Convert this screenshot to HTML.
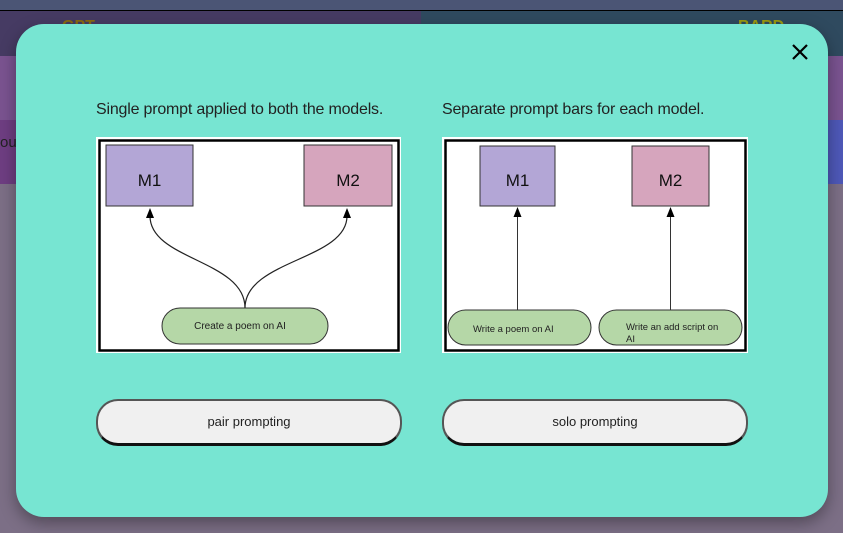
<!DOCTYPE html>
<html><head><meta charset="utf-8"><style>
html,body{margin:0;padding:0;width:843px;height:533px;overflow:hidden;font-family:"Liberation Sans",sans-serif;}
.bg{position:absolute;}
.modal{position:absolute;left:16px;top:24px;width:812px;height:493px;background:#77e5d2;border-radius:28px;box-shadow:0 6px 16px rgba(0,0,0,0.35);}
.t{position:absolute;font-size:16px;color:#222;top:101px;letter-spacing:-0.2px;}
.btn{position:absolute;top:399px;width:302px;height:42px;background:#f0f0f0;border:2px solid #555;border-bottom-width:3px;border-bottom-color:#111;border-radius:22px;font-size:13px;color:#222;text-align:center;line-height:42px;box-sizing:content-box;}
</style></head><body>
<div class="bg" style="left:0;top:0;width:843px;height:10px;background:#4b5575"></div>
<div class="bg" style="left:0;top:10px;width:843px;height:1px;background:#000"></div>
<div class="bg" style="left:0;top:11px;width:421px;height:45px;background:#463b63"></div>
<div class="bg" style="left:421px;top:11px;width:422px;height:45px;background:#2f4a5f"></div>
<div class="bg" style="left:0;top:56px;width:843px;height:64px;background:#7a5390"></div>
<div class="bg" style="left:0;top:120px;width:421px;height:64px;background:#6e3e82"></div>
<div class="bg" style="left:421px;top:120px;width:422px;height:64px;background:#4e58b8"></div>
<div class="bg" style="left:0;top:184px;width:843px;height:349px;background:#7c6f86"></div>
<div class="bg" style="left:0;top:134px;font-size:15px;color:#222">ou</div>
<div class="bg" style="left:62px;top:18px;font-size:16px;font-weight:bold;color:#8a6a10">GPT</div>
<div class="bg" style="left:738px;top:18px;font-size:16px;font-weight:bold;color:#9a9a10">BARD</div>
<div class="modal"></div>
<svg class="bg" style="left:791px;top:43px" width="18" height="18"><path d="M2,2 L16,16 M16,2 L2,16" stroke="#000" stroke-width="2.2"/></svg>
<div class="t" style="left:96px">Single prompt applied to both the models.</div>
<div class="t" style="left:442px">Separate prompt bars for each model.</div>
<svg class="bg" style="left:0;top:0" width="843" height="533" font-family="Liberation Sans, sans-serif">
<rect x="96" y="137" width="305" height="216" fill="#fff"/>
<rect x="99.5" y="140.5" width="299" height="210" fill="none" stroke="#000" stroke-width="2.5"/>
<rect x="106" y="145" width="87" height="61" fill="#b3a6d6" stroke="#333"/>
<rect x="304" y="145" width="88" height="61" fill="#d6a5bd" stroke="#333"/>
<text x="149.5" y="186" font-size="17" text-anchor="middle" fill="#111">M1</text>
<text x="348" y="186" font-size="17" text-anchor="middle" fill="#111">M2</text>
<path d="M245,308 C245,260 150,260 150,216" fill="none" stroke="#222" stroke-width="1.2"/>
<path d="M245,308 C245,260 347,260 347,216" fill="none" stroke="#222" stroke-width="1.2"/>
<path d="M150,208 l-4,10 l8,0 z M347,208 l-4,10 l8,0 z" fill="#000"/>
<rect x="162" y="308" width="166" height="36" rx="18" fill="#b5d7a7" stroke="#333"/>
<text x="240" y="329" font-size="10" text-anchor="middle" fill="#222">Create a poem on AI</text>
<rect x="442" y="137" width="306" height="216" fill="#fff"/>
<rect x="445.5" y="140.5" width="300" height="210" fill="none" stroke="#000" stroke-width="2.5"/>
<rect x="480" y="146" width="75" height="60" fill="#b3a6d6" stroke="#333"/>
<rect x="632" y="146" width="77" height="60" fill="#d6a5bd" stroke="#333"/>
<text x="517.5" y="186" font-size="17" text-anchor="middle" fill="#111">M1</text>
<text x="670.5" y="186" font-size="17" text-anchor="middle" fill="#111">M2</text>
<line x1="517.5" y1="310" x2="517.5" y2="216" stroke="#333"/>
<line x1="670.5" y1="310" x2="670.5" y2="216" stroke="#333"/>
<path d="M517.5,207 l-4,10 l8,0 z M670.5,207 l-4,10 l8,0 z" fill="#000"/>
<rect x="448" y="310" width="143" height="35" rx="17.5" fill="#b5d7a7" stroke="#333"/>
<rect x="599" y="310" width="143" height="35" rx="17.5" fill="#b5d7a7" stroke="#333"/>
<text x="473" y="332" font-size="9.5" fill="#222">Write a poem on AI</text>
<text x="626" y="330" font-size="9.5" fill="#222">Write an add script on</text>
<text x="626" y="342" font-size="9.5" fill="#222">AI</text>
</svg>
<div class="btn" style="left:96px">pair prompting</div>
<div class="btn" style="left:442px">solo prompting</div>
</body></html>
